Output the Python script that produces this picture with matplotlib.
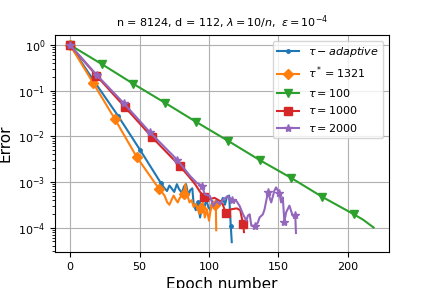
import numpy as np
import matplotlib
matplotlib.use('Agg')
import matplotlib.pyplot as plt


# values, error given as log10(error)
adapt_ep = [0, 17, 34.5, 50.2, 65.5, 67.5, 69.8, 71.5, 73.3, 75, 76.9, 78.5, 80.5, 82, 83.5,
            85.2, 86.5, 88, 89, 90.5, 92, 93.6, 95, 96.5, 98, 99.5, 101, 102.5, 104, 105.5,
            107, 108.5, 110, 111.5, 113, 114.5, 115.7, 116.4]
adapt_log = [0, -0.78, -1.55, -2.29, -3.03, -3.12, -3.2, -3.08, -3.15, -3.22, -3.05, -3.16, -3.24, -3.1, -3.05,
             -3.3, -3.18, -3.14, -3.5, -3.62, -3.45, -3.78, -3.52, -3.6, -3.38, -3.55, -3.62, -3.42, -3.58, -3.4,
             -3.52, -3.45, -3.35, -3.5, -3.32, -3.3, -3.97, -4.32]

opt_ep = [0, 16.6, 32.4, 47.9, 64, 66, 68, 70, 71.5, 73, 74.5, 76, 77.5, 79, 80.5, 81.7, 83,
          84.5, 86, 87.5, 89, 90.5, 92, 93, 94.3, 95.5, 97, 98.5, 100, 101.5, 103, 104.3, 105, 105.2]
opt_log = [0, -0.83, -1.63, -2.45, -3.15, -3.22, -3.3, -3.45, -3.5, -3.4, -3.3, -3.38, -3.45, -3.35, -3.3, -3.27, -3.05,
           -3.3, -3.45, -3.4, -3.55, -3.48, -3.6, -3.7, -3.57, -3.45, -3.78, -3.6, -3.85, -3.55, -3.45, -3.5, -3.58, -4.06]

t100_ep = [0, 22.9, 45.5, 68.5, 91, 113.7, 136.4, 159, 181.6, 204.3, 211, 218.5]
t100_log = [0, -0.42, -0.85, -1.27, -1.69, -2.1, -2.52, -2.91, -3.33, -3.71, -3.83, -4.0]

t1000_ep = [0, 19, 39.5, 59, 79.3, 86, 90, 93.6, 96.4, 100, 104, 108, 110, 112, 116, 120, 122.5, 124.5, 125.2]
t1000_log = [0, -0.67, -1.36, -2.02, -2.66, -2.9, -3.05, -3.22, -3.32, -3.38, -3.35, -3.42, -3.5, -3.68, -3.6,
             -3.58, -3.62, -3.92, -4.1]

t2000_ep = [0, 19.3, 38.8, 57.4, 76.9, 86.4, 91.2, 94.8, 97, 100.7, 103, 105.5, 107.9, 110.2, 113.8, 116.7,
            119.8, 122.1, 124.5, 126.9, 128, 129.3, 130.5, 133.3, 135.2, 136.4, 138.8, 140, 142.4, 143.6,
            144.8, 147.1, 148.3, 150.7, 151.9, 153.1, 154.3, 155.5, 157.9, 160.2, 162.1, 162.6]
t2000_log = [0, -0.66, -1.28, -1.91, -2.51, -2.87, -3.02, -3.08, -3.27, -3.31, -3.53, -3.42, -3.49, -3.38, -3.31, -3.4,
             -3.42, -3.53, -3.71, -3.85, -3.74, -3.71, -3.96, -3.96, -3.89, -3.78, -3.71, -3.6, -3.23, -3.34,
             -3.45, -3.19, -3.12, -3.25, -3.45, -3.34, -3.87, -3.67, -3.52, -3.74, -3.73, -4.12]

labels = [r'$\tau-adaptive$', r'$\tau^*=1321$', r'$\tau=100$', r'$\tau=1000$', r'$\tau=2000$']


def err(logs):
    return 10.0 ** np.array(logs)


fig, ax = plt.subplots(figsize=(4.32, 2.88), dpi=100)
fig.subplots_adjust(left=0.127, right=0.9, top=0.878, bottom=0.125)

ax.plot(adapt_ep, err(adapt_log), label=labels[0], color='C0', marker='.', markersize=5,
        markevery=[0, 1, 2, 3, 4, 20, 36])
ax.plot(opt_ep, err(opt_log), label=labels[1], color='C1', marker='D', markersize=5,
        markevery=[0, 1, 2, 3, 4, 15, 24, 31])
ax.plot(t100_ep, err(t100_log), label=labels[2], color='C2', marker='v', markersize=6,
        markevery=list(range(10)))
ax.plot(t1000_ep, err(t1000_log), label=labels[3], color='C3', marker='s', markersize=6,
        markevery=[0, 1, 2, 3, 4, 8, 13, 17])
ax.plot(t2000_ep, err(t2000_log), label=labels[4], color='C4', marker='*', markersize=6,
        markevery=[0, 1, 2, 3, 4, 7, 15, 23, 28, 33, 36, 40])

ax.set_yscale('log')
ax.set_xticks([0, 50, 100, 150, 200])
ax.tick_params(labelsize=8)
ax.grid(True)
ax.legend(loc='upper right', fontsize=8)
ax.set_title(r'n = 8124, d = 112, $\lambda = 10/n,\ \epsilon = 10^{-4}$', fontsize=8)
ax.set_xlabel('Epoch number', fontsize=11)
ax.set_ylabel('Error', fontsize=11)

fig.savefig('out.png')
